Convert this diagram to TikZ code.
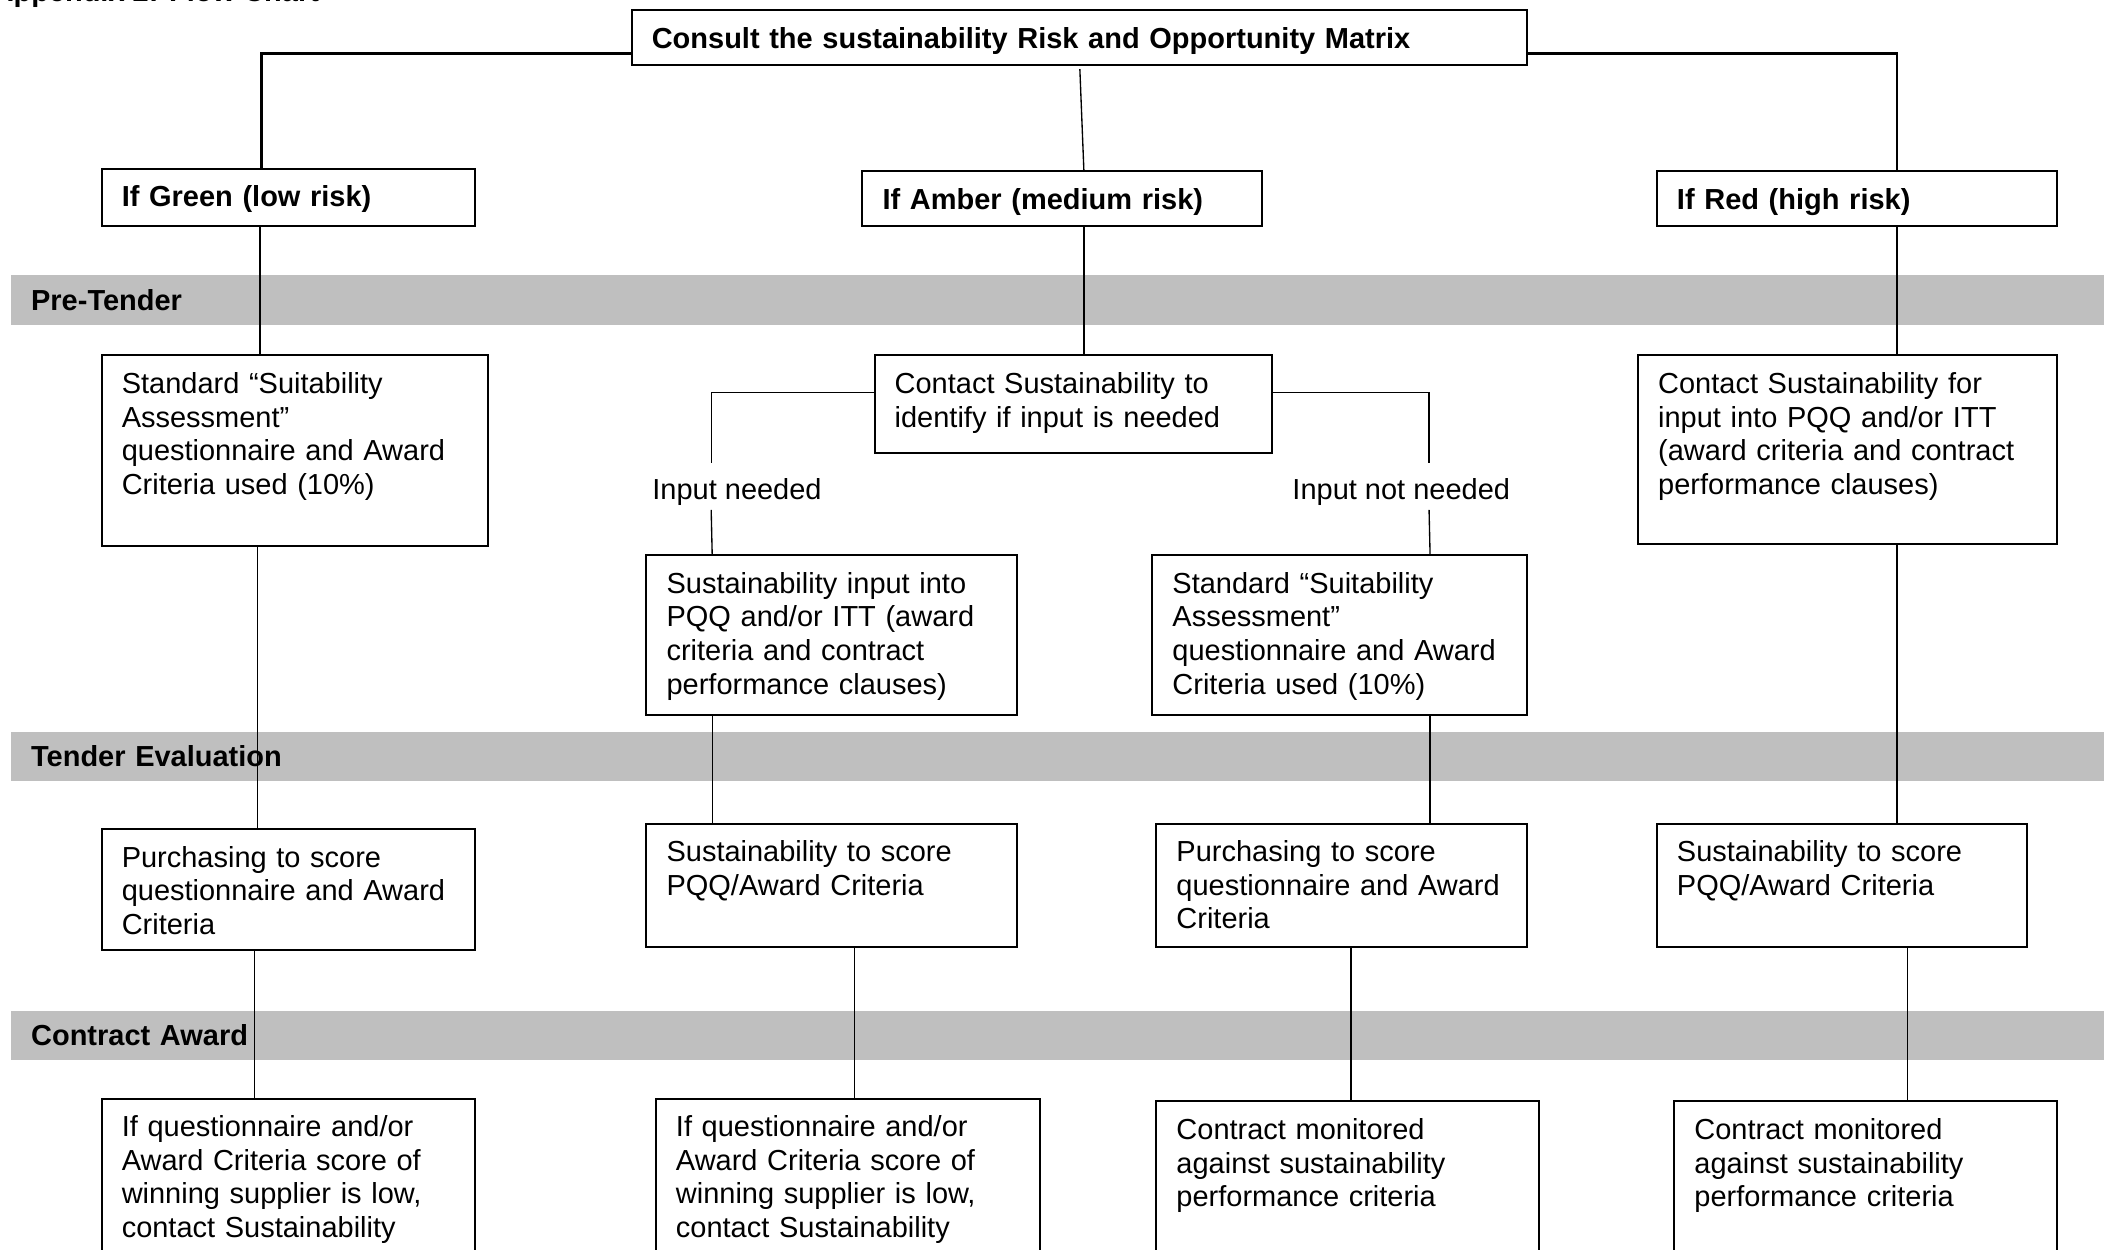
\documentclass[tikz,border=0pt]{standalone}
\usepackage{fontspec}
\setmainfont{Liberation Sans}
\definecolor{bandgray}{RGB}{191,191,191}
\newcommand\flowfs{\fontsize{21.6pt}{25pt}\selectfont}
\begin{document}
\begin{tikzpicture}[x=1pt,y=-1pt,
  fbox/.style n args={2}{draw, line width=1.5pt, anchor=north west, inner xsep=15pt, inner ysep=0pt,
    text width=#1, align=left, text height=28.5pt, text depth=#2, font=\flowfs},
  hbox/.style n args={2}{fbox={#1}{#2}, font=\flowfs\bfseries},
  band/.style={fill=bandgray, anchor=north west, inner xsep=15pt, inner ysep=0pt, text width=1540pt,
    minimum height=37pt, align=left, font=\flowfs\bfseries},
  lbl/.style={anchor=base west, inner sep=0pt, font=\flowfs},
  topline/.style={line width=1.8pt},
  conn/.style={line width=1pt}
]
\clip (0,0) rectangle (1568,931);
\fill[white] (0,0) rectangle (1568,931);

% title (cut off at top, as in the reference)
\node[anchor=base west, inner sep=0pt, font=\flowfs\bfseries] (title) at (-5.7,1) {Appendix 2: Flow Chart};

% phase bands
\node[band] (pre) at (8,205) {Pre-Tender};
\node[band] (eval) at (8,545) {Tender Evaluation};
\node[band] (award) at (8,753) {Contract Award};

% top
\node[hbox={637pt}{12.5pt}] (consult) at (470,7) {Consult the sustainability Risk and Opportunity Matrix};
\node[hbox={248pt}{14.5pt}] (green) at (75,125) {If Green (low risk)};
\node[hbox={268pt}{12.5pt}] (amber) at (642,127) {If Amber (medium risk)};
\node[hbox={268pt}{12.5pt}] (red) at (1234,127) {If Red (high risk)};

% pre-tender row
\node[fbox={258pt}{113.5pt}] (g1) at (75,264) {Standard “Suitability\\Assessment”\\questionnaire and Award\\Criteria used (10\%)};
\node[fbox={266pt}{44.5pt}] (a0) at (651,264) {Contact Sustainability to\\identify if input is needed};
\node[fbox={282pt}{112.5pt}] (r1) at (1220,264) {Contact Sustainability for\\input into PQQ and/or ITT\\(award criteria and contract\\performance clauses)};

\node[lbl] (inl) at (486,372) {Input needed};
\node[lbl] (innl) at (963,372) {Input not needed};
\coordinate (inlT) at (530,345);
\coordinate (inlB) at (530,380);
\coordinate (innlT) at (1065,345);
\coordinate (innlB) at (1065,380);

\node[fbox={246pt}{90.5pt}] (a1) at (481,413) {Sustainability input into\\PQQ and/or ITT (award\\criteria and contract\\performance clauses)};
\node[fbox={249pt}{90.5pt}] (a2) at (858,413) {Standard “Suitability\\Assessment”\\questionnaire and Award\\Criteria used (10\%)};

% evaluation row
\node[fbox={248pt}{61.5pt}] (g2) at (75,617) {Purchasing to score\\questionnaire and Award\\Criteria};
\node[fbox={246pt}{63.5pt}] (a3) at (481,613) {Sustainability to score\\PQQ/Award Criteria};
\node[fbox={246pt}{63.5pt}] (a4) at (861,613) {Purchasing to score\\questionnaire and Award\\Criteria};
\node[fbox={246pt}{63.5pt}] (r2) at (1234,613) {Sustainability to score\\PQQ/Award Criteria};

% award row
\node[fbox={248pt}{111.5pt}] (g3) at (75,818) {If questionnaire and/or\\Award Criteria score of\\winning supplier is low,\\contact Sustainability};
\node[fbox={256pt}{111.5pt}] (a5) at (488,818) {If questionnaire and/or\\Award Criteria score of\\winning supplier is low,\\contact Sustainability};
\node[fbox={255pt}{111.5pt}] (a6) at (861,820) {Contract monitored\\against sustainability\\performance criteria};
\node[fbox={255pt}{111.5pt}] (r3) at (1247,820) {Contract monitored\\against sustainability\\performance criteria};

% connectors from the matrix
\draw[topline] ([yshift=-11.5pt]consult.west) -| ([xshift=-20pt]green.north);
\draw[topline] ([yshift=-11.5pt]consult.east) -| ([xshift=30pt]red.north);
\draw[conn] ([xshift=0.5pt,yshift=-2pt]consult.south) -- ([xshift=16pt]amber.north);

% green column
\draw[conn] ([xshift=-21pt]green.south) -- ([xshift=-26pt]g1.north);
\draw[conn] ([xshift=-28pt]g1.south) -- ([xshift=-23pt]g2.north);
\draw[conn] ([xshift=-25pt]g2.south) -- ([xshift=-25pt]g3.north);

% amber column
\draw[conn] ([xshift=16pt]amber.south) -- ([xshift=8pt]a0.north);
\draw[conn] ([yshift=8.5pt]a0.west) -| (inlT);
\draw[conn] (inlB) -- ([xshift=-89pt]a1.north);
\draw[conn] ([yshift=8.5pt]a0.east) -| (innlT);
\draw[conn] (innlB) -- ([xshift=67.5pt]a2.north);
\draw[conn] ([xshift=-89pt]a1.south) -- ([xshift=-89pt]a3.north);
\draw[conn] ([xshift=67.5pt]a2.south) -- ([xshift=66pt]a4.north);
\draw[conn] ([xshift=17pt]a3.south) -- ([xshift=5pt]a5.north);
\draw[conn] ([xshift=7pt]a4.south) -- ([xshift=2.5pt]a6.north);

% red column
\draw[conn] ([xshift=30pt]red.south) -- ([xshift=37pt]r1.north);
\draw[conn] ([xshift=37pt]r1.south) -- ([xshift=41pt]r2.north);
\draw[conn] ([xshift=49pt]r2.south) -- ([xshift=31.5pt]r3.north);
\end{tikzpicture}
\end{document}
